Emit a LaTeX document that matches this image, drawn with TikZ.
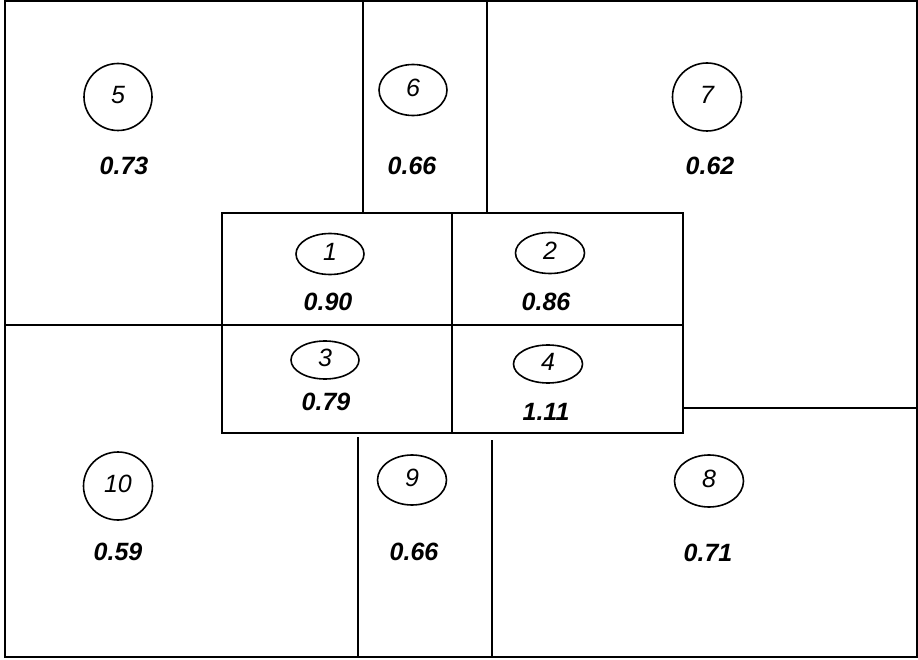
\documentclass[tikz,border=0pt]{standalone}
\usepackage{fontspec}
\setmainfont{Liberation Sans}
\usetikzlibrary{shapes.geometric}
\newcommand{\zl}[1]{\raisebox{5pt}{#1}}
\begin{document}
\begin{tikzpicture}[x=1pt,y=-1pt,
  wall/.style={line width=1.8pt, line cap=rect},
  zone/.style={ellipse, draw, line width=1.6pt, inner sep=0pt, font=\fontsize{25}{25}\selectfont\itshape},
  val/.style={inner sep=0pt, font=\fontsize{25}{25}\selectfont\bfseries\itshape}]
\useasboundingbox (0,0) rectangle (918,660);
% outer border
\draw[wall] (5,1) rectangle (917,657);
% central box
\draw[wall] (222,213) rectangle (683,433);
\draw[wall] (452,213) -- (452,433);
\draw[wall] (222,325) -- (683,325);
% partitions
\draw[wall] (363,1) -- (363,213);
\draw[wall] (487,1) -- (487,213);
\draw[wall] (5,325) -- (222,325);
\draw[wall] (683,408) -- (917,408);
\draw[wall] (358,438) -- (358,657);
\draw[wall] (492,441) -- (492,657);
% zone labels
\node[zone, minimum width=68pt, minimum height=67pt] (z5) at (118,97) {\zl{5}};
\node[zone, minimum width=68pt, minimum height=51pt] (z6) at (413,90) {\zl{6}};
\node[zone, minimum width=69pt, minimum height=68pt] (z7) at (707,97) {\zl{7}};
\node[zone, minimum width=68pt, minimum height=41pt] (z1) at (330,254) {\zl{1}};
\node[zone, minimum width=69pt, minimum height=41pt] (z2) at (550,253) {\zl{2}};
\node[zone, minimum width=68pt, minimum height=38pt] (z3) at (325,360) {\zl{3}};
\node[zone, minimum width=69pt, minimum height=38pt] (z4) at (548,364) {\zl{4}};
\node[zone, minimum width=69pt, minimum height=68pt] (z10) at (118,486) {\zl{10}};
\node[zone, minimum width=69pt, minimum height=50pt] (z9) at (412,480) {\zl{9}};
\node[zone, minimum width=69pt, minimum height=52pt] (z8) at (709,481) {\zl{8}};
% values
\node[val] (v5) at (124,166) {0.73};
\node[val] (v6) at (412,166) {0.66};
\node[val] (v7) at (710,166) {0.62};
\node[val] (v1) at (328,302) {0.90};
\node[val] (v2) at (546,302) {0.86};
\node[val] (v3) at (326,402) {0.79};
\node[val] (v4) at (546,412) {1.11};
\node[val] (v10) at (118,552) {0.59};
\node[val] (v9) at (414,552) {0.66};
\node[val] (v8) at (708,553) {0.71};
\end{tikzpicture}
\end{document}
